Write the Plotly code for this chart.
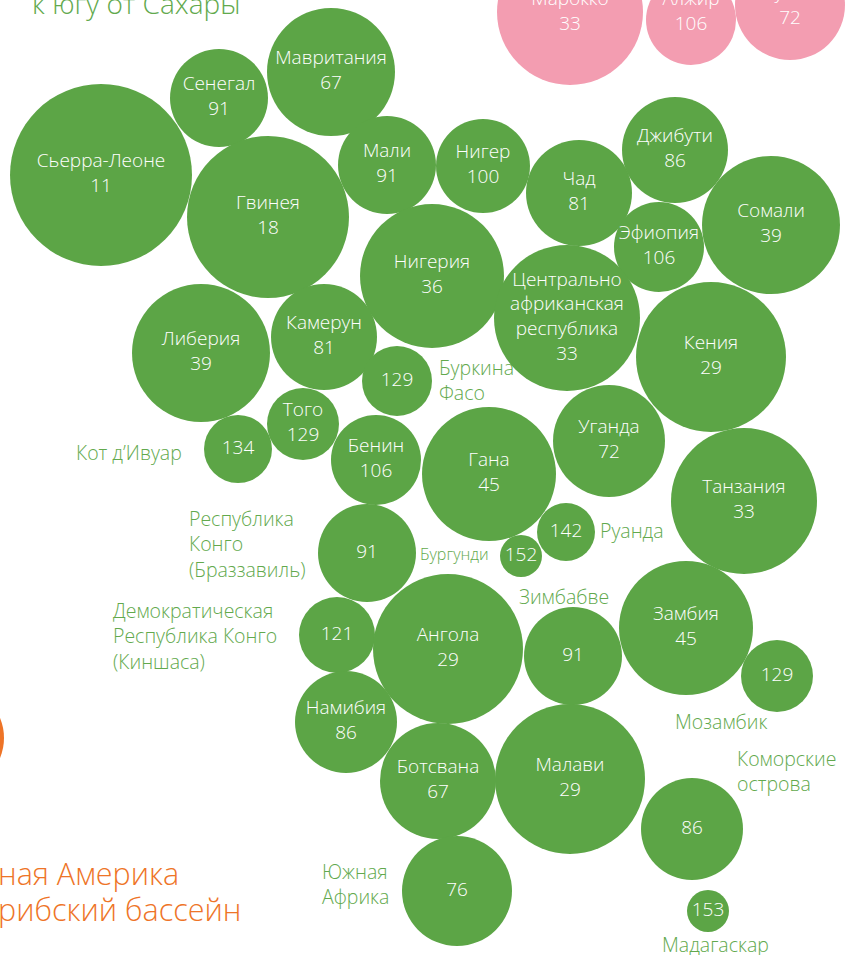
import plotly.graph_objects as go

# ---- data ----
countries = ["Сьерра-Леоне", "Сенегал", "Мавритания", "Гвинея", "Мали", "Нигер", "Чад",
             "Джибути", "Эфиопия", "Сомали", "Нигерия", "Центрально<br>африканская<br>республика",
             "Кения", "Либерия", "Камерун", "Буркина Фасо", "Того", "Кот д’Ивуар", "Бенин",
             "Республика Конго", "Гана", "Уганда", "Танзания", "Руанда", "Бургунди",
             "ДРК", "Ангола", "Намибия", "Ботсвана", "Южная Африка", "Зимбабве", "Замбия",
             "Мозамбик", "Малави", "Коморские острова", "Мадагаскар"]
values = [11, 91, 67, 18, 91, 100, 81, 86, 106, 39, 36, 33, 29, 39, 81, 129, 129, 134, 106,
          91, 45, 72, 33, 142, 152, 121, 29, 86, 67, 76, 91, 45, 129, 29, 86, 153]
name_inside = [True, True, True, True, True, True, True, True, True, True, True, True, True,
               True, True, False, True, False, True, False, True, True, True, False, False,
               False, True, True, True, False, False, True, False, True, False, False]
cx = [101, 219, 331, 268, 387, 483, 579, 675, 659, 771, 432, 567, 711, 201, 324, 397, 303,
      238, 376, 367, 489, 609, 744, 566, 521, 337, 448, 346, 438, 457, 573, 686, 777, 570,
      692, 708]
cy = [175, 98, 72, 217, 165, 166, 193, 150, 247, 225, 276, 318, 357, 353, 337, 381, 424,
      449, 460, 553, 474, 441, 501, 532, 556, 635, 649, 722, 781, 891, 656, 628, 676, 779,
      829, 911]
radius = [91, 49, 64, 81, 49, 47, 53, 53, 45, 69, 72, 73, 75, 69, 53, 35, 36, 34, 45, 49,
          67, 56, 73, 29, 21, 38, 75, 51, 58, 55, 49, 67, 36, 75, 51, 21]

north_countries = ["Марокко", "Алжир", "Тунис"]
north_values = [33, 106, 72]
north_cx = [570, 691, 790]
north_cy = [12, 20, 5]
north_r = [73, 45, 55]
north_label_y = [13, 13, 7]

# neighbouring region bubble, mostly outside the frame
latam_cx, latam_cy, latam_r = -48, 738, 52

outer_labels = ["Кот д’Ивуар", "Буркина<br>Фасо", "Республика<br>Конго<br>(Браззавиль)",
                "Бургунди", "Руанда", "Демократическая<br>Республика Конго<br>(Киншаса)",
                "Зимбабве", "Мозамбик", "Коморские<br>острова", "Южная<br>Африка",
                "Мадагаскар"]
outer_x = [184, 437, 187, 418, 598, 111, 517, 673, 735, 320, 660]
outer_y = [452, 380, 544, 554, 530, 636, 596, 721, 771, 884, 944]
outer_anchor = ["right", "left", "left", "left", "left", "left", "left", "left", "left",
                "left", "left"]
outer_size = [19.5, 19.5, 19.5, 16, 19.5, 19.5, 19.5, 19.5, 19.5, 19.5, 19.5]

GREEN = "#5ca546"
LABEL_GREEN = "#62a94d"
PINK = "#f39db1"
ORANGE = "#ee7427"
FONT = "Open Sans"
IN_SIZE = 19

fig = go.Figure()

texts = [(f"{n}<br>{v}" if ins else f"{v}") for n, v, ins in zip(countries, values, name_inside)]
fig.add_trace(go.Scatter(
    x=cx, y=cy, mode="markers+text",
    marker=dict(size=[2 * r for r in radius], sizemode="diameter", color=GREEN,
                line=dict(width=0), opacity=1),
    text=texts, textposition="middle center",
    textfont=dict(family=FONT, size=IN_SIZE, color="white", weight=300),
    hoverinfo="skip", cliponaxis=False))

fig.add_trace(go.Scatter(
    x=north_cx, y=north_cy, mode="markers",
    marker=dict(size=[2 * r for r in north_r], sizemode="diameter", color=PINK,
                line=dict(width=0), opacity=1),
    hoverinfo="skip", cliponaxis=False))
fig.add_trace(go.Scatter(
    x=north_cx, y=north_label_y, mode="text",
    text=[f"{n}<br>{v}" for n, v in zip(north_countries, north_values)],
    textposition="middle center",
    textfont=dict(family=FONT, size=IN_SIZE, color="white", weight=300),
    hoverinfo="skip", cliponaxis=False))

fig.add_shape(type="circle", xref="x", yref="y",
              x0=latam_cx - latam_r, x1=latam_cx + latam_r,
              y0=latam_cy - latam_r, y1=latam_cy + latam_r,
              fillcolor=ORANGE, line=dict(width=0), layer="below")

for t, x, y, a, s in zip(outer_labels, outer_x, outer_y, outer_anchor, outer_size):
    fig.add_annotation(x=x, y=y, text=t, showarrow=False, xanchor=a, yanchor="middle",
                       align=a, font=dict(family=FONT, size=s, color=LABEL_GREEN, weight=300))

# region titles (cropped by the frame)
fig.add_annotation(x=30, y=0, yshift=-3, text="к югу от Сахары", showarrow=False,
                   xanchor="left", yanchor="middle",
                   font=dict(family=FONT, size=28, color=LABEL_GREEN, weight=300))
fig.add_annotation(x=0, xshift=-4, y=873, text="ная Америка", showarrow=False,
                   xanchor="left", yanchor="middle",
                   font=dict(family=FONT, size=30.5, color=ORANGE, weight=300))
fig.add_annotation(x=0, xshift=-4, y=909, text="рибский бассейн", showarrow=False,
                   xanchor="left", yanchor="middle",
                   font=dict(family=FONT, size=30.5, color=ORANGE, weight=300))

fig.update_layout(
    width=845, height=955, margin=dict(l=0, r=0, t=0, b=0),
    paper_bgcolor="white", plot_bgcolor="white", showlegend=False,
    xaxis=dict(range=[0, 845], visible=False, fixedrange=True),
    yaxis=dict(range=[955, 0], visible=False, fixedrange=True),
)

fig.write_html("out.html", config={"displayModeBar": False},
               post_script="document.body.style.margin='0';document.body.style.overflow='hidden';")
